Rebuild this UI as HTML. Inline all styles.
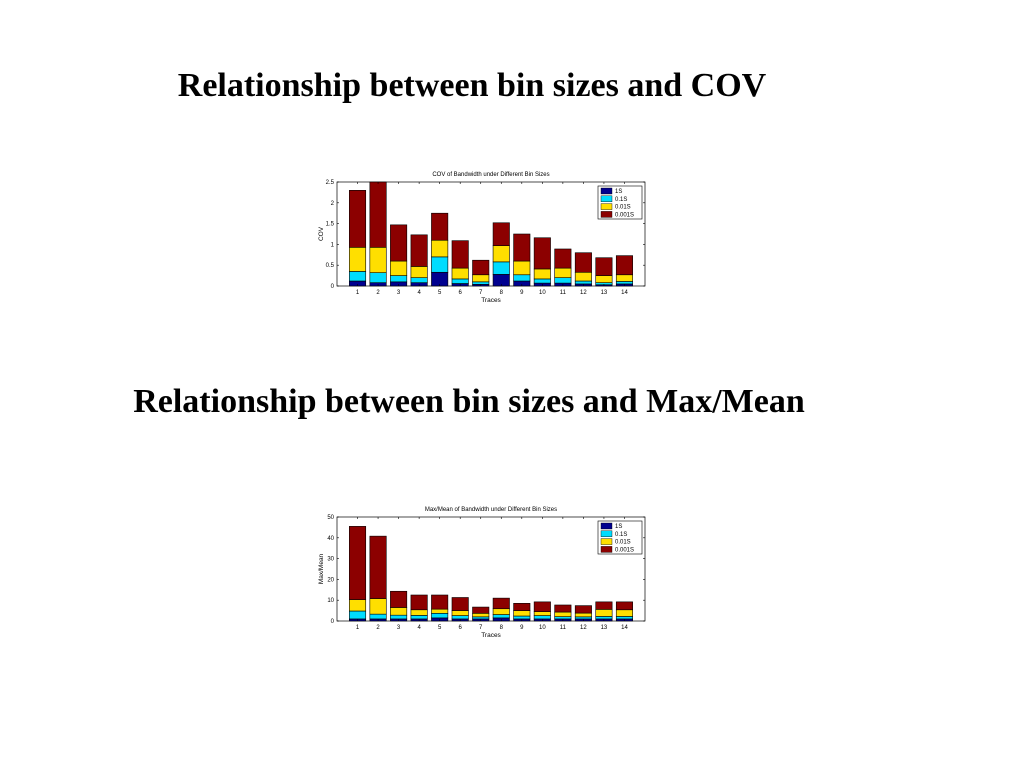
<!DOCTYPE html>
<html><head><meta charset="utf-8"><style>
body{margin:0;width:1024px;height:768px;background:#fff;overflow:hidden;position:relative;font-family:"Liberation Serif",serif}
.t{position:absolute;left:0;width:944px;text-align:center;font-weight:bold;font-size:34px;color:#000}
svg{position:absolute;left:0;top:0}
</style></head><body>
<div class="t" style="top:67px">Relationship between bin sizes and COV</div>
<div class="t" style="top:383px;width:938px">Relationship between bin sizes and Max/Mean</div>
<svg id="s" width="1024" height="768"></svg>
<script>
const traces=["1","2","3","4","5","6","7","8","9","10","11","12","13","14"];
const seriesNames=["1S","0.1S","0.01S","0.001S"];
// cumulative stack tops per bin size (COV)
const cov1S=[0.12,0.08,0.1,0.08,0.33,0.06,0.04,0.28,0.12,0.07,0.07,0.05,0.03,0.05];
const cov01S=[0.35,0.32,0.25,0.2,0.7,0.17,0.1,0.58,0.27,0.17,0.2,0.12,0.08,0.11];
const cov001S=[0.93,0.93,0.6,0.47,1.1,0.43,0.27,0.97,0.6,0.41,0.43,0.33,0.25,0.27];
const cov0001S=[2.3,2.5,1.47,1.23,1.75,1.09,0.62,1.52,1.25,1.16,0.89,0.8,0.68,0.73];
const covTicks=["0","0.5","1","1.5","2","2.5"];
// cumulative stack tops (Max/Mean)
const mm1S=[1,1,1,1,1.5,1,1,1.5,1,1,1,1,1,1];
const mm01S=[4.8,3.3,2.8,2.7,3.7,2.6,2,3.1,2.4,2.6,2.1,2,2.2,2.2];
const mm001S=[10.3,10.8,6.5,5.4,5.7,5,3.7,5.9,5,4.5,4.3,3.8,5.6,5.4];
const mm0001S=[45.5,40.8,14.3,12.5,12.5,11.3,6.7,11,8.5,9.2,7.7,7.4,9.2,9.2];
const mmTicks=["0","10","20","30","40","50"];
const colors=["#00008f","#00dcff","#ffdf00","#8c0000"];
const NS="http://www.w3.org/2000/svg";
const svg=document.getElementById('s');
function mk(tag,attrs,parent){const e=document.createElementNS(NS,tag);for(const k in attrs)e.setAttribute(k,attrs[k]);(parent||svg).appendChild(e);return e;}
function chart(top,title,ylab,ticks,series,name){
  const x0=337,x1=645,y0=top,y1=top+104;
  const ymax=parseFloat(ticks[ticks.length-1]);
  const g=mk('g',{});
  
  
  const X=i=>x0+(i+1)*(x1-x0)/(traces.length+1);
  const Y=v=>y1-(v/ymax)*(y1-y0);
  const bw=0.8*(x1-x0)/(traces.length+1);
  mk('rect',{x:x0,y:y0,width:x1-x0,height:y1-y0,fill:'#fff',stroke:'#000','stroke-width':0.7},g);
  traces.forEach((t,i)=>{
    let prev=0;
    series.forEach((s,k)=>{
      const r=mk('rect',{x:X(i)-bw/2,y:Y(s[i]),width:bw,height:Y(prev)-Y(s[i]),fill:colors[k],stroke:'#000','stroke-width':0.6},g);
      
      
      prev=s[i];
    });
    mk('line',{x1:X(i),x2:X(i),y1:y1,y2:y1-2,stroke:'#000','stroke-width':0.6},g);
    mk('line',{x1:X(i),x2:X(i),y1:y0,y2:y0+2,stroke:'#000','stroke-width':0.6},g);
    const tl=mk('text',{x:X(i),y:y1+8,'font-size':6,'text-anchor':'middle','font-family':'Liberation Sans'},g);
    tl.textContent=t;
    
    
  });
  ticks.forEach(tk=>{
    const y=Y(parseFloat(tk));
    mk('line',{x1:x0,x2:x0+2,y1:y,y2:y,stroke:'#000','stroke-width':0.6},g);
    mk('line',{x1:x1,x2:x1-2,y1:y,y2:y,stroke:'#000','stroke-width':0.6},g);
    const tl=mk('text',{x:x0-3,y:y+2,'font-size':6,'text-anchor':'end','font-family':'Liberation Sans'},g);
    tl.textContent=tk;
    
    
  });
  const tt=mk('text',{x:(x0+x1)/2,y:y0-6,'font-size':6,'text-anchor':'middle','font-family':'Liberation Sans'},g);
  tt.textContent=title;
  
  
  const xl=mk('text',{x:(x0+x1)/2,y:y1+16,'font-size':6.5,'text-anchor':'middle','font-family':'Liberation Sans'},g);
  xl.textContent='Traces';
  
  
  const yl=mk('text',{x:0,y:0,'font-size':6.5,'text-anchor':'middle','font-family':'Liberation Sans',transform:`translate(${x0-14},${(y0+y1)/2}) rotate(-90)`},g);
  yl.textContent=ylab;
  
  
  const lg=mk('g',{},g);
  
  
  mk('rect',{x:598,y:y0+4,width:44,height:33,fill:'#fff',stroke:'#000','stroke-width':0.6},lg);
  seriesNames.forEach((n,k)=>{
    const yy=y0+6+k*7.8;
    mk('rect',{x:601,y:yy,width:11,height:6,fill:colors[k],stroke:'#000','stroke-width':0.4},lg);
    const lt=mk('text',{x:615,y:yy+5,'font-size':6,'font-family':'Liberation Sans'},lg);
    lt.textContent=n;
    
    
  });
}
chart(182,'COV of Bandwidth under Different Bin Sizes','COV',covTicks,[cov1S,cov01S,cov001S,cov0001S],'cov-chart');
chart(517,'Max/Mean of Bandwidth under Different Bin Sizes','Max/Mean',mmTicks,[mm1S,mm01S,mm001S,mm0001S],'maxmean-chart');
</script>
</body></html>
